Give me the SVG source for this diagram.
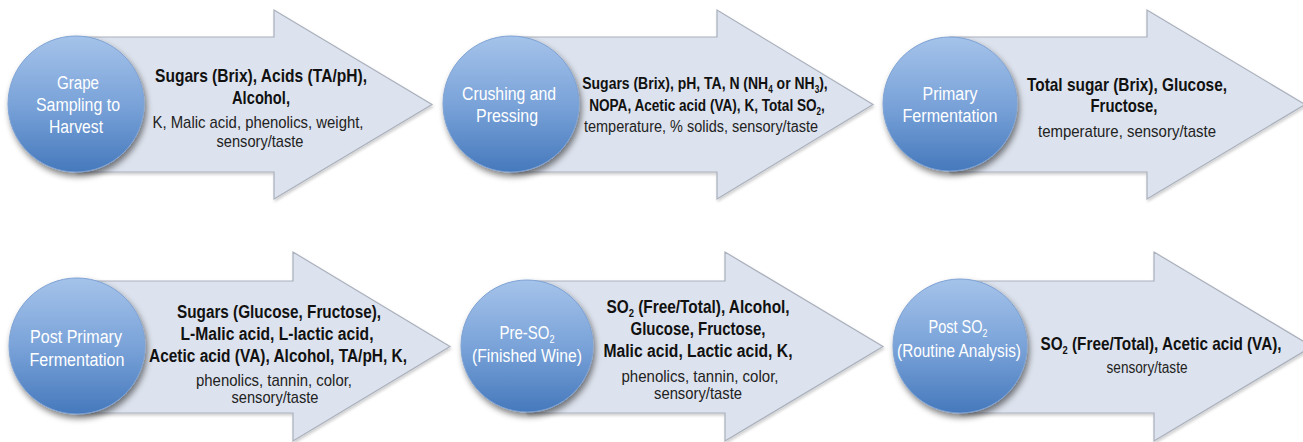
<svg xmlns="http://www.w3.org/2000/svg" width="1303" height="442" viewBox="0 0 1303 442">
<style>
.arrow{fill:#dde3ee;stroke:#a9b0bc;stroke-width:1.2;filter:url(#ash)}
.circ{fill:url(#cg);stroke:#7ea2d3;stroke-width:1;filter:url(#csh)}
.b{font-family:"Liberation Sans",Arial,sans-serif;font-weight:bold;font-size:19px;fill:#111;text-anchor:middle}
.b18{font-size:18px}
.b17{font-size:17px}
.r{font-family:"Liberation Sans",Arial,sans-serif;font-size:17px;fill:#222;text-anchor:middle}
.r16{font-size:16px}
.c{font-family:"Liberation Sans",Arial,sans-serif;font-size:18px;fill:#fff;text-anchor:middle}
.s{font-size:11px;baseline-shift:-4px}
.s10{font-size:10px;baseline-shift:-4px}
</style>
<defs>
<linearGradient id="cg" x1="0" y1="0" x2="0" y2="1">
<stop offset="0" stop-color="#a5c3ea"/>
<stop offset="0.5" stop-color="#7aa3d9"/>
<stop offset="1" stop-color="#4679bc"/>
</linearGradient>
<filter id="csh" x="-30%" y="-30%" width="160%" height="170%">
<feGaussianBlur in="SourceAlpha" stdDeviation="3"/>
<feOffset dx="2" dy="4" result="o"/>
<feComponentTransfer><feFuncA type="linear" slope="0.5"/></feComponentTransfer>
<feMerge><feMergeNode/><feMergeNode in="SourceGraphic"/></feMerge>
</filter>
<filter id="ash" x="-10%" y="-10%" width="120%" height="130%">
<feGaussianBlur in="SourceAlpha" stdDeviation="1.5"/>
<feOffset dx="1" dy="2" result="o"/>
<feComponentTransfer><feFuncA type="linear" slope="0.2"/></feComponentTransfer>
<feMerge><feMergeNode/><feMergeNode in="SourceGraphic"/></feMerge>
</filter>
</defs>
<rect width="1303" height="442" fill="#fff"/>
<g id="connectors"></g>

<g id="node-grape-sampling">
<polygon class="arrow" points="76,37 274,37 274,10 432,104.5 274,199 274,172 76,172"/>
<circle class="circ" cx="76" cy="104" r="68"/>
<text class="c" x="78" y="89" textLength="42" lengthAdjust="spacingAndGlyphs">Grape</text>
<text class="c" x="78" y="111" textLength="84" lengthAdjust="spacingAndGlyphs">Sampling to</text>
<text class="c" x="76" y="133" textLength="54" lengthAdjust="spacingAndGlyphs">Harvest</text>
<text class="b" x="261" y="82" textLength="212" lengthAdjust="spacingAndGlyphs">Sugars (Brix), Acids (TA/pH),</text>
<text class="b" x="261" y="104" textLength="58" lengthAdjust="spacingAndGlyphs">Alcohol,</text>
<text class="r" x="258" y="128" textLength="211" lengthAdjust="spacingAndGlyphs">K, Malic acid, phenolics, weight,</text>
<text class="r" x="260" y="147" textLength="87" lengthAdjust="spacingAndGlyphs">sensory/taste</text>
</g>

<g id="node-crushing">
<polygon class="arrow" points="511,37 717,37 717,10 873,104.5 717,199 717,172 511,172"/>
<circle class="circ" cx="511" cy="104" r="68"/>
<text class="c" x="509" y="100" textLength="94" lengthAdjust="spacingAndGlyphs">Crushing and</text>
<text class="c" x="507" y="122" textLength="62" lengthAdjust="spacingAndGlyphs">Pressing</text>
<text class="b b17" transform="translate(705,89) scale(0.822,1)">Sugars (Brix), pH, TA, N (NH<tspan class="s10">4</tspan> or NH<tspan class="s10">3</tspan>),</text>
<text class="b b17" transform="translate(707,111) scale(0.80,1)">NOPA, Acetic acid (VA), K, Total SO<tspan class="s10">2</tspan>,</text>
<text class="r r16" x="701" y="132" textLength="234" lengthAdjust="spacingAndGlyphs">temperature, % solids, sensory/taste</text>
</g>

<g id="node-primary-fermentation">
<polygon class="arrow" points="950,37 1147,37 1147,10 1305,104.5 1147,199 1147,172 950,172"/>
<circle class="circ" cx="950" cy="104" r="67"/>
<text class="c" x="950" y="100" textLength="55" lengthAdjust="spacingAndGlyphs">Primary</text>
<text class="c" x="950" y="122" textLength="95" lengthAdjust="spacingAndGlyphs">Fermentation</text>
<text class="b" x="1127" y="91" textLength="200" lengthAdjust="spacingAndGlyphs">Total sugar (Brix), Glucose,</text>
<text class="b" x="1124" y="112" textLength="67" lengthAdjust="spacingAndGlyphs">Fructose,</text>
<text class="r" x="1127" y="137" textLength="178" lengthAdjust="spacingAndGlyphs">temperature, sensory/taste</text>
</g>

<g id="node-post-primary">
<polygon class="arrow" points="77,281 293,281 293,252 450,346.5 293,441 293,413 77,413"/>
<circle class="circ" cx="77" cy="346" r="68"/>
<text class="c" x="76" y="343" textLength="92" lengthAdjust="spacingAndGlyphs">Post Primary</text>
<text class="c" x="77" y="366" textLength="95" lengthAdjust="spacingAndGlyphs">Fermentation</text>
<text class="b b18" x="279" y="318" textLength="204" lengthAdjust="spacingAndGlyphs">Sugars (Glucose, Fructose),</text>
<text class="b b18" x="277" y="340" textLength="193" lengthAdjust="spacingAndGlyphs">L-Malic acid, L-lactic acid,</text>
<text class="b b18" x="278" y="362" textLength="258" lengthAdjust="spacingAndGlyphs">Acetic acid (VA), Alcohol, TA/pH, K,</text>
<text class="r" x="274" y="386" textLength="156" lengthAdjust="spacingAndGlyphs">phenolics, tannin, color,</text>
<text class="r" x="275" y="403" textLength="87" lengthAdjust="spacingAndGlyphs">sensory/taste</text>
</g>

<g id="node-pre-so2">
<polygon class="arrow" points="527,281 725,281 725,252 883,346.5 725,441 725,413 527,413"/>
<circle class="circ" cx="527" cy="346" r="66"/>
<text class="c" transform="translate(527,339) scale(0.832,1)">Pre-SO<tspan class="s">2</tspan></text>
<text class="c" x="527" y="362" textLength="110" lengthAdjust="spacingAndGlyphs">(Finished Wine)</text>
<text class="b b18" transform="translate(698,313) scale(0.856,1)">SO<tspan class="s">2</tspan> (Free/Total), Alcohol,</text>
<text class="b b18" x="698" y="335" textLength="135" lengthAdjust="spacingAndGlyphs">Glucose, Fructose,</text>
<text class="b b18" x="698" y="357" textLength="189" lengthAdjust="spacingAndGlyphs">Malic acid, Lactic acid, K,</text>
<text class="r" x="700" y="382" textLength="157" lengthAdjust="spacingAndGlyphs">phenolics, tannin, color,</text>
<text class="r" x="698" y="399" textLength="88" lengthAdjust="spacingAndGlyphs">sensory/taste</text>
</g>

<g id="node-post-so2">
<polygon class="arrow" points="960,281 1154,281 1154,252 1312,346.5 1154,441 1154,413 960,413"/>
<circle class="circ" cx="960" cy="346" r="67"/>
<text class="c" transform="translate(958,333) scale(0.807,1)">Post SO<tspan class="s">2</tspan></text>
<text class="c" transform="translate(959,357) scale(0.855,1)">(Routine Analysis)</text>
<text class="b b18" transform="translate(1161,350) scale(0.85,1)">SO<tspan class="s">2</tspan> (Free/Total), Acetic acid (VA),</text>
<text class="r r16" x="1147" y="373" textLength="81" lengthAdjust="spacingAndGlyphs">sensory/taste</text>
</g>
</svg>
